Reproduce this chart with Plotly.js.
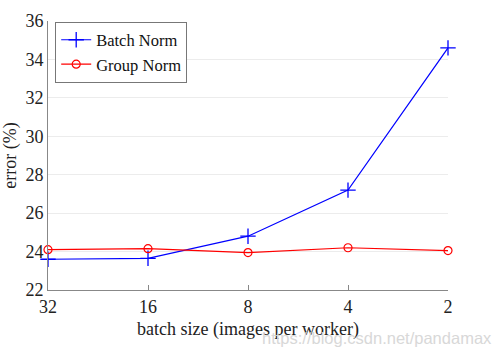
<!DOCTYPE html>
<html><head><meta charset="utf-8">
<script src="https://cdn.plot.ly/plotly-3.0.1.min.js"></script>
<style>html,body{margin:0;padding:0;background:#fff}#c{width:495px;height:355px}</style>
</head><body><div id="c"></div>
<script>
const batchSizes = ['32', '16', '8', '4', '2'];
const batchNorm = [23.6, 23.65, 24.8, 27.2, 34.6];
const groupNorm = [24.1, 24.15, 23.95, 24.2, 24.05];
const yTicks = [22, 24, 26, 28, 30, 32, 34, 36];

const serif = 'Liberation Serif, Times New Roman, serif';
const traces = [
  {x: batchSizes, y: batchNorm, name: 'Batch Norm', mode: 'lines+markers', cliponaxis: false,
   line: {color: '#0000ff', width: 1.2},
   marker: {symbol: 'cross-thin-open', size: 11, line: {color: '#0000ff', width: 1.3}}},
  {x: batchSizes, y: groupNorm, name: 'Group Norm', mode: 'lines+markers', cliponaxis: false,
   line: {color: '#ff0000', width: 1.2},
   marker: {symbol: 'circle-open', size: 8, color: '#ff0000', line: {color: '#ff0000', width: 1.2}}}
];
const layout = {
  width: 495, height: 355,
  margin: {l: 48, r: 47, t: 21, b: 65},
  paper_bgcolor: '#fff', plot_bgcolor: '#fff',
  font: {family: serif, size: 18, color: '#222'},
  showlegend: true,
  legend: {x: 0.018, y: 0.998, xanchor: 'left', yanchor: 'top', bgcolor: '#fff',
           bordercolor: '#777', borderwidth: 1, font: {family: serif, size: 16.5, color: '#111'},
           tracegroupgap: 0, itemwidth: 30},
  xaxis: {type: 'category', categoryorder: 'array', categoryarray: batchSizes, range: [0, 4],
          showline: true, linecolor: '#888', linewidth: 1, showgrid: false, zeroline: false,
          ticks: 'inside', ticklen: 5, tickcolor: '#888',
          tickfont: {family: serif, size: 18, color: '#222'},
          title: {text: 'batch size (images per worker)', font: {family: serif, size: 18, color: '#222'}, standoff: 6}},
  yaxis: {range: [22, 36], tickvals: yTicks, showline: true, linecolor: '#888', linewidth: 1,
          showgrid: true, gridcolor: '#ececec', gridwidth: 1, zeroline: false,
          ticks: '', tickfont: {family: serif, size: 18, color: '#222'},
          title: {text: 'error (%)', font: {family: serif, size: 18, color: '#222'}, standoff: 4}},
  annotations: [{text: 'https://blog.csdn.net/pandamax', xref: 'paper', yref: 'paper',
                 x: 1.115, y: -0.178, xanchor: 'right', yanchor: 'middle', showarrow: false,
                 font: {family: 'Liberation Sans, Arial, sans-serif', size: 16.5, color: '#d8d8d8'}}]
};
Plotly.newPlot('c', traces, layout, {displayModeBar: false, staticPlot: true});
</script></body></html>
